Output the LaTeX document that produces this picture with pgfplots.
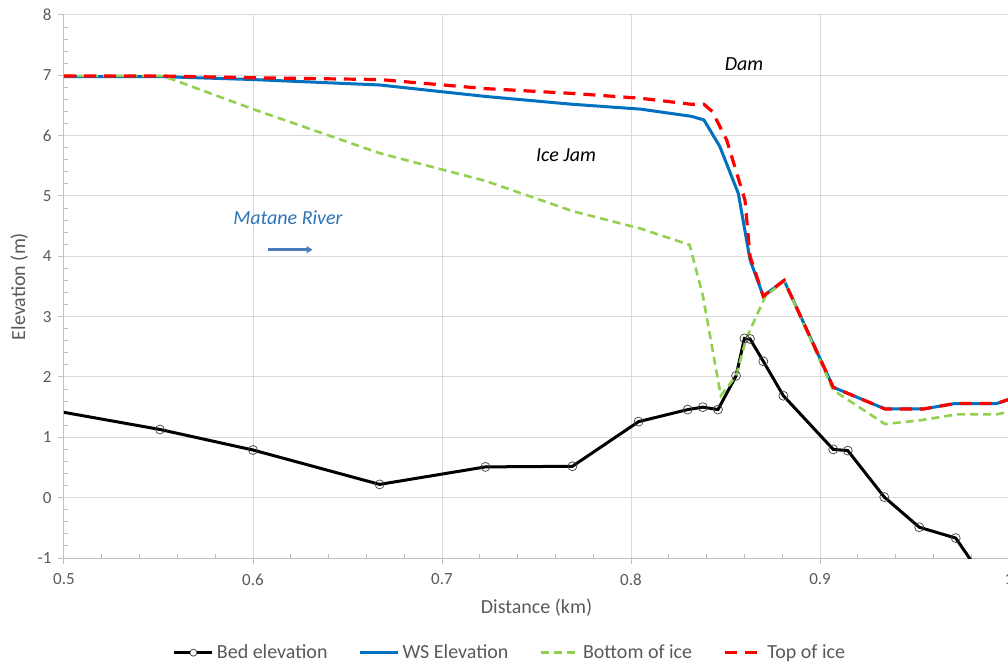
\documentclass[border=0pt]{standalone}
\usepackage{pgfplots}
\pgfplotsset{compat=1.18}
\usepackage{fontspec}
\setmainfont{Carlito}
\usetikzlibrary{arrows.meta}
\definecolor{bedc}{HTML}{000000}
\definecolor{wsc}{HTML}{0070C0}
\definecolor{botc}{HTML}{92D050}
\definecolor{topc}{HTML}{FF0000}
\definecolor{tickc}{HTML}{595959}
\definecolor{gridc}{HTML}{D9D9D9}
\definecolor{axc}{HTML}{BFBFBF}
\definecolor{rivc}{HTML}{2E75B6}
\definecolor{arrc}{HTML}{4A7EBB}
\begin{document}
\begin{tikzpicture}[x=1pt,y=1pt]
\begin{axis}[
  at={(0,0)}, anchor=south west,
  scale only axis, width=945pt, height=543pt,
  xmin=0.5, xmax=1.0, ymin=-1, ymax=8,
  xtick={0.5,0.6,0.7,0.8,0.9,1.0},
  ytick={-1,0,1,2,3,4,5,6,7,8},
  minor x tick num=4, minor y tick num=4,
  axis x line=bottom, axis y line=left,
  x axis line style={-, draw=axc, line width=1pt},
  y axis line style={-, draw=axc, line width=1pt},
  grid=major,
  major grid style={draw=gridc, line width=1pt},
  tick style={draw=axc, line width=1pt},
  tick align=inside,
  major tick length=6pt, minor tick length=4pt,
  every major x tick/.append style={yshift=-6pt},
  every major y tick/.append style={xshift=-6pt},
  /pgf/number format/assume math mode=true,
  xticklabel style={/pgf/number format/fixed, /pgf/number format/precision=1, font=\fontsize{17}{20}\selectfont, text=tickc, yshift=-12pt},
  yticklabel style={font=\fontsize{17}{20}\selectfont, text=tickc, xshift=-9pt},
  xlabel={Distance (km)}, ylabel={Elevation (m)},
  xlabel style={font=\fontsize{20}{24}\selectfont, text=tickc, yshift=-7pt},
  ylabel style={font=\fontsize{20}{24}\selectfont, text=tickc, yshift=3pt},
  legend columns=4,
  legend style={at={(axis description cs:0.4725,-0.1744)}, anchor=center, draw=none, fill=none,
    font=\fontsize{20}{24}\selectfont, text=tickc, inner sep=0pt,
    /tikz/every even column/.append style={column sep=28pt},
    /tikz/every odd column/.append style={column sep=0pt},
    nodes={inner xsep=3pt}},
  legend image code/.code={\draw[#1] (0pt,0pt) -- (38pt,0pt);},
  clip=true,
]
\addplot[bedc, line width=3pt, mark=o, mark size=4.5pt, mark indices={1,...,19},
  mark options={solid, draw=black!75, line width=0.7pt, fill=none},
  legend image code/.code={\draw[black, line width=3pt] (0pt,0pt) -- (38pt,0pt); \draw[black!75, line width=0.7pt, fill=white] (19pt,0pt) circle (3.5pt);}]
coordinates {
(0.490,1.47) (0.5508,1.13) (0.600,0.79) (0.667,0.22) (0.723,0.51) (0.769,0.52)
(0.804,1.26) (0.830,1.46) (0.838,1.50) (0.846,1.46) (0.8556,2.02) (0.860,2.64)
(0.863,2.63) (0.870,2.26) (0.8806,1.69) (0.907,0.80) (0.9147,0.78) (0.934,0.01)
(0.9525,-0.49) (0.9718,-0.67) (0.990,-1.50)
};
\addlegendentry{Bed elevation}
\addplot[wsc, line width=3pt] coordinates {
(0.500,6.98) (0.550,6.98) (0.600,6.93) (0.667,6.84) (0.723,6.65) (0.769,6.52)
(0.805,6.44) (0.832,6.32) (0.8386,6.26) (0.847,5.82) (0.8568,5.04) (0.863,3.94)
(0.870,3.34) (0.881,3.60) (0.907,1.83) (0.9344,1.47) (0.9547,1.47) (0.9714,1.56)
(0.9935,1.56) (1.000,1.63)
};
\addlegendentry{WS Elevation}
\addplot[botc, line width=2.6pt, dash pattern=on 8pt off 5pt] coordinates {
(0.500,6.99) (0.5524,6.99) (0.600,6.44) (0.667,5.71) (0.723,5.25) (0.769,4.75)
(0.805,4.46) (0.831,4.19) (0.838,3.35) (0.8475,1.69) (0.8556,2.02) (0.861,2.64)
(0.871,3.33) (0.881,3.60) (0.907,1.78) (0.9344,1.22) (0.9525,1.28) (0.9723,1.38)
(0.9935,1.38) (1.000,1.43)
};
\addlegendentry{Bottom of ice}
\addplot[topc, line width=3.2pt, dash pattern=on 12pt off 8pt] coordinates {
(0.500,6.99) (0.550,6.99) (0.600,6.96) (0.667,6.93) (0.723,6.78) (0.769,6.70)
(0.805,6.62) (0.832,6.52) (0.8386,6.52) (0.8430,6.40) (0.8506,5.93) (0.8603,4.93)
(0.863,4.00) (0.870,3.34) (0.881,3.60) (0.907,1.83) (0.9344,1.47) (0.9547,1.47)
(0.9714,1.56) (0.9935,1.56) (1.000,1.63)
};
\addlegendentry{Top of ice}
\node[font=\fontsize{20}{24}\selectfont\itshape, text=black] at (axis cs:0.8598,7.19) {Dam};
\node[font=\fontsize{20}{24}\selectfont\itshape, text=black] at (axis cs:0.7656,5.68) {Ice Jam};
\node[font=\fontsize{20}{24}\selectfont\itshape, text=rivc] at (axis cs:0.6185,4.64) {Matane River};
\draw[arrc, line width=2.4pt, -{Triangle[length=6pt,width=7pt]}] (axis cs:0.608,4.11) -- (axis cs:0.6315,4.11);
\end{axis}
\pgfresetboundingbox
\path[use as bounding box] (-64pt,-105pt) rectangle (944pt,558pt);
\end{tikzpicture}
\end{document}
